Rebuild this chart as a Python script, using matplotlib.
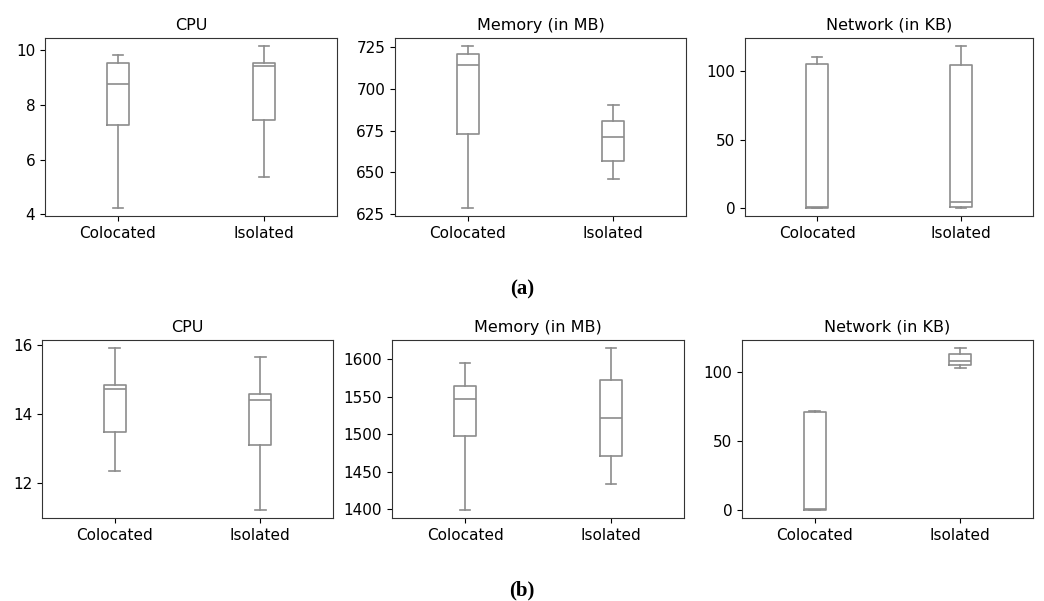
import matplotlib.pyplot as plt

groups = ["Colocated", "Isolated"]

# box statistics per panel: (whislo, q1, med, q3, whishi) for Colocated, Isolated
cpu_a = [(4.23, 7.26, 8.78, 9.55, 9.83), (5.38, 7.45, 9.43, 9.55, 10.16)]
mem_a = [(628.6, 673.2, 714.2, 721.2, 725.8), (646.1, 656.6, 671.3, 680.6, 690.6)]
net_a = [(0.1, 0.3, 0.5, 105.3, 110.9), (0.2, 0.5, 4.3, 104.8, 118.6)]

cpu_b = [(12.36, 13.49, 14.72, 14.83, 15.9), (11.23, 13.10, 14.41, 14.58, 15.63)]
mem_b = [(1399.0, 1497.7, 1547.0, 1564.8, 1595.1), (1433.3, 1471.5, 1521.3, 1571.5, 1614.7)]
net_b = [(0.3, 0.5, 0.8, 71.2, 71.5), (102.4, 105.0, 107.6, 112.5, 117.1)]

titles = ["CPU", "Memory (in MB)", "Network (in KB)"]

W, H = 1044, 601
fig = plt.figure(figsize=(W / 100, H / 100), dpi=100)
plt.rcParams["font.size"] = 11

# pixel boxes (left, right, top, bottom)
rows = [
    ([cpu_a, mem_a, net_a], [(45, 337), (395, 686), (745, 1033)], (38, 216)),
    ([cpu_b, mem_b, net_b], [(42, 333), (392, 684), (742, 1033)], (340, 518)),
]

line = dict(color="#8c8c8c", linewidth=1.2)

for panels, spans, (top, bot) in rows:
    for data, (l, r), title in zip(panels, spans, titles):
        ax = fig.add_axes([l / W, 1 - bot / H, (r - l) / W, (bot - top) / H])
        stats = []
        for name, (lo, q1, med, q3, hi) in zip(groups, data):
            stats.append(dict(label=name, whislo=lo, q1=q1, med=med, q3=q3, whishi=hi, fliers=[]))
        ax.bxp(stats, widths=0.15, showfliers=False,
               boxprops=line, whiskerprops=line, capprops=line, medianprops=line)
        ax.set_title(title, fontsize=11.5)
        ax.tick_params(labelsize=11)
        for s in ax.spines.values():
            s.set_color("#333333")

fig.text(522 / W, 1 - 289 / H, "(a)", ha="center", va="center",
         family="Liberation Serif", fontweight="bold", fontsize=15)
fig.text(522 / W, 1 - 590 / H, "(b)", ha="center", va="center",
         family="Liberation Serif", fontweight="bold", fontsize=15)

fig.savefig("out.png", dpi=100)
